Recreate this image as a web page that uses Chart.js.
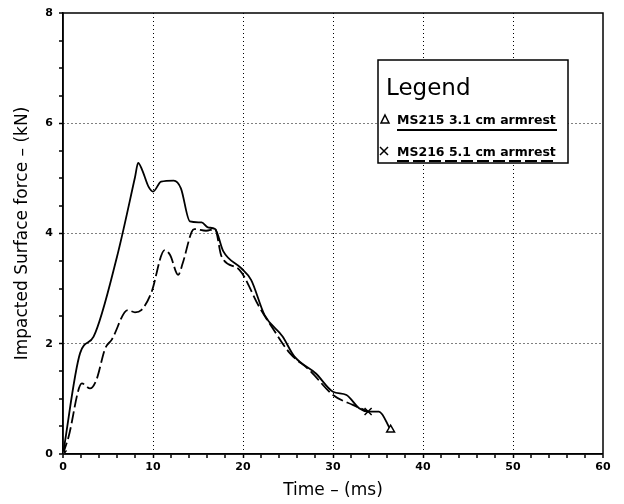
<!DOCTYPE html>
<html>
<head>
<meta charset="utf-8">
<script src="https://cdn.jsdelivr.net/npm/chart.js@4"></script>
<style>
  html, body { margin: 0; padding: 0; background: #fff; }
  canvas { display: block; }
</style>
</head>
<body>
<canvas id="myChart" width="624" height="504"></canvas>
<script>
// values (time in ms, force in kN)
const ms215Time  = [0, 1.9, 3.4, 6.0, 8.0, 8.35, 8.8, 9.5, 10.0, 10.9, 12.3, 13.1, 14.1, 15.4, 16.1, 16.9, 17.8, 19.8, 20.9, 22.4, 24.4, 25.7, 28.1, 30.0, 31.5, 32.9, 33.9, 35.1, 36.4];
const ms215Force = [0, 1.83, 2.13, 3.58, 5.02, 5.28, 5.15, 4.85, 4.76, 4.94, 4.96, 4.82, 4.22, 4.20, 4.11, 4.08, 3.68, 3.37, 3.16, 2.52, 2.13, 1.77, 1.46, 1.13, 1.07, 0.83, 0.77, 0.77, 0.44];

const ms216Time  = [0, 0.6, 2.1, 3.0, 3.7, 4.7, 5.4, 7.2, 8.0, 8.7, 9.8, 11.3, 11.9, 12.8, 13.3, 14.3, 14.6, 15.9, 16.9, 17.6, 19.6, 21.8, 23.3, 25.2, 27.4, 30.0, 32.2, 33.9];
const ms216Force = [0, 0.3, 1.28, 1.19, 1.34, 1.92, 2.07, 2.61, 2.57, 2.61, 2.92, 3.70, 3.61, 3.25, 3.46, 4.03, 4.08, 4.05, 4.08, 3.59, 3.34, 2.67, 2.28, 1.83, 1.52, 1.07, 0.89, 0.77];

const seriesNames = ["MS215 3.1 cm armrest", "MS216 5.1 cm armrest"];
const xTickLabels = ["0", "10", "20", "30", "40", "50", "60"];
const yTickLabels = ["0", "2", "4", "6", "8"];

const FONT = "'DejaVu Sans', Lato, sans-serif";

function toPoints(xs, ys) {
    return xs.map((x, i) => ({ x: x, y: ys[i] }))
}

function endsOnly(size) {
    return (ctx) => {
        let n = ctx.dataset.data.length
        return (ctx.dataIndex === 0 || ctx.dataIndex === n - 1) ? size : 0
    }
}

// frame round the plot + hand drawn legend box
const framePlugin = {
    id: 'frame',
    afterDraw(chart) {
        const ctx = chart.ctx
        const a = chart.chartArea
        ctx.save()
        ctx.strokeStyle = '#000'
        ctx.lineWidth = 1.5
        ctx.strokeRect(a.left, a.top, a.right - a.left, a.bottom - a.top)

        // legend
        let lx = 378, ly = 60, lw = 190, lh = 103
        ctx.fillStyle = '#fff'
        ctx.fillRect(lx, ly, lw, lh)
        ctx.strokeRect(lx, ly, lw, lh)

        ctx.fillStyle = '#000'
        ctx.textBaseline = 'alphabetic'
        ctx.font = "23px " + FONT
        ctx.fillText("Legend", lx + 8, ly + 35)

        ctx.font = "bold 12.5px " + FONT
        ctx.fillText(seriesNames[0], lx + 19, ly + 64)
        ctx.fillText(seriesNames[1], lx + 19, ly + 96)

        // line samples (underlines)
        ctx.lineWidth = 1.8
        ctx.beginPath()
        ctx.moveTo(lx + 19, ly + 70)
        ctx.lineTo(lx + 179, ly + 70)
        ctx.stroke()
        ctx.setLineDash([12, 4])
        ctx.beginPath()
        ctx.moveTo(lx + 19, ly + 101)
        ctx.lineTo(lx + 179, ly + 101)
        ctx.stroke()
        ctx.setLineDash([])

        // markers
        ctx.lineWidth = 1.5
        ctx.beginPath()
        ctx.moveTo(lx + 7, ly + 55)
        ctx.lineTo(lx + 11, ly + 63)
        ctx.lineTo(lx + 3, ly + 63)
        ctx.closePath()
        ctx.stroke()
        ctx.beginPath()
        ctx.moveTo(lx + 2, ly + 87)
        ctx.lineTo(lx + 10, ly + 95)
        ctx.moveTo(lx + 10, ly + 87)
        ctx.lineTo(lx + 2, ly + 95)
        ctx.stroke()
        ctx.restore()
    }
};

const majorX = (ctx) => (ctx.tick && ctx.tick.value % 10 === 0 && ctx.tick.value > 0 && ctx.tick.value < 60) ? 1 : 0
const majorY = (ctx) => (ctx.tick && ctx.tick.value % 2 === 0 && ctx.tick.value > 0 && ctx.tick.value < 8) ? 1 : 0

var chart = new Chart("myChart", {
    type: "line",
    data: {
        datasets: [{
            label: seriesNames[0],
            data: toPoints(ms215Time, ms215Force),
            borderColor: "#000",
            backgroundColor: "#fff",
            borderWidth: 1.8,
            cubicInterpolationMode: "monotone",
            pointStyle: "triangle",
            pointRadius: endsOnly(4.5),
            pointBorderWidth: 1.5,
            pointBorderColor: "#000",
            pointBackgroundColor: "#fff"
        }, {
            label: seriesNames[1],
            data: toPoints(ms216Time, ms216Force),
            borderColor: "#000",
            backgroundColor: "#000",
            borderWidth: 1.8,
            borderDash: [12, 4],
            cubicInterpolationMode: "monotone",
            pointStyle: "crossRot",
            pointRadius: endsOnly(5),
            pointBorderWidth: 1.5,
            pointBorderColor: "#000"
        }]
    },
    options: {
        responsive: false,
        animation: false,
        devicePixelRatio: 1,
        layout: { padding: { top: 13, right: 21, left: 0, bottom: 0 } },
        plugins: {
            legend: { display: false },
            tooltip: { enabled: false }
        },
        scales: {
            x: {
                type: "linear",
                min: 0,
                max: 60,
                afterFit: (scale) => { scale.height = 50 },
                ticks: {
                    stepSize: 2,
                    autoSkip: false,
                    maxRotation: 0,
                    padding: 3,
                    color: "#000",
                    font: { family: FONT, size: 11, weight: "bold" },
                    callback: (v) => v % 10 === 0 ? xTickLabels[v / 10] : ""
                },
                grid: {
                    color: "#000",
                    lineWidth: majorX,
                    tickWidth: 1.5,
                    tickColor: "#000",
                    tickLength: 4
                },
                border: { display: true, color: "#000", width: 1.5, dash: [1, 3] },
                title: {
                    display: true,
                    text: "Time – (ms)",
                    color: "#000",
                    font: { family: FONT, size: 17 },
                    padding: { top: 0, bottom: 3 }
                }
            },
            y: {
                type: "linear",
                min: 0,
                max: 8,
                afterFit: (scale) => { scale.width = 63 },
                ticks: {
                    stepSize: 0.5,
                    autoSkip: false,
                    padding: 6,
                    color: "#000",
                    font: { family: FONT, size: 11, weight: "bold" },
                    callback: (v) => v % 2 === 0 ? yTickLabels[v / 2] : ""
                },
                grid: {
                    color: "#000",
                    lineWidth: majorY,
                    tickWidth: 1.5,
                    tickColor: "#000",
                    tickLength: 4
                },
                border: { display: true, color: "#000", width: 1.5, dash: [1, 3] },
                title: {
                    display: true,
                    text: "Impacted Surface force – (kN)",
                    color: "#000",
                    font: { family: FONT, size: 17 },
                    padding: { top: 12, bottom: 0 }
                }
            }
        }
    },
    plugins: [framePlugin]
});
</script>
</body>
</html>
